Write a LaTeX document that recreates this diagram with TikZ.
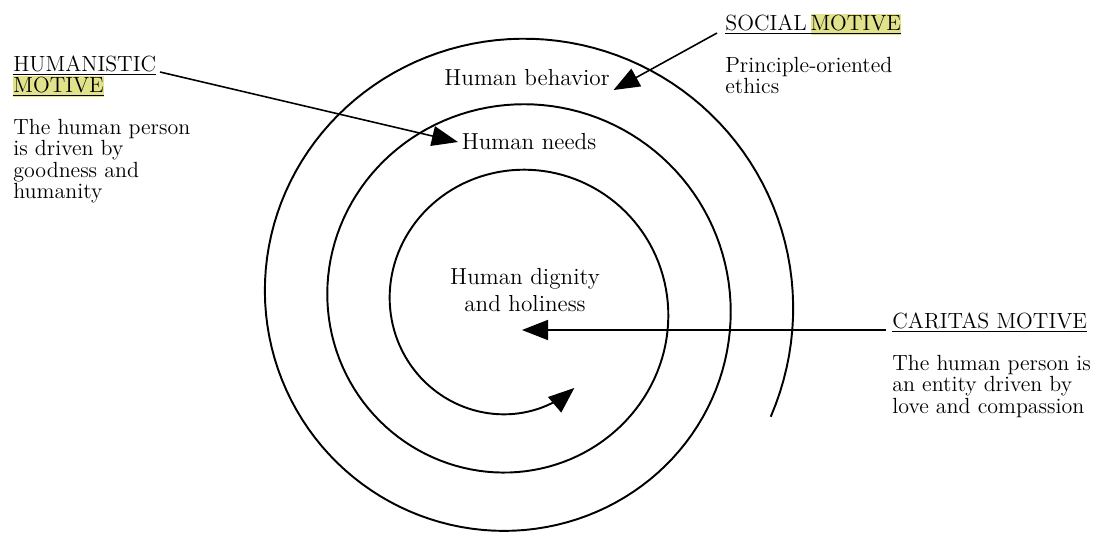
\documentclass[tikz,border=0pt]{standalone}
\usetikzlibrary{arrows.meta}
\definecolor{motivehl}{RGB}{226,226,140}
\newcommand{\hilite}[1]{\setbox1\hbox{#1}\rlap{\color{motivehl}\rule[-2.8pt]{\wd1}{\dimexpr\ht1+3.2pt}}\box1}
\newcommand{\motiveline}[1]{\setbox0\hbox{#1}\copy0\llap{\rule[-2.4pt]{\wd0}{0.8pt}}}

\begin{document}
\begin{tikzpicture}[x=0.02cm, y=-0.02cm,
  label/.style = {font=\fontsize{12.5}{11}\selectfont, inner sep=0pt, align=left},
  ringlabel/.style = {font=\fontsize{13.2}{11}\selectfont, inner sep=2pt, align=center},
  ring/.style = {line width=1.1pt},
  pointer/.style = {line width=0.9pt, -{Triangle[length=0.52cm, width=0.4cm]}}]
\useasboundingbox (0,0) rectangle (1099,542);

% Create spiral from the outer end inwards
\draw[ring, -{Triangle[length=0.52cm, width=0.4cm]}] plot[domain=-25:1027, samples=400, variable=\t]
  ({513.4 + (279.6-0.1736*\t)*cos(\t)}, {298.5 + 0.01*\t - (276-0.1722*\t)*sin(\t)});

% Label rings
\node[ringlabel] (behavior) at (527,78) {Human behavior};
\node[ringlabel] (needs) at (529,142) {Human needs};
\node[ringlabel] (dignity) at (525,290) {Human dignity\\[3pt]and holiness};

% Humanistic motive
\node[label, anchor=base west] (humtitle) at (13,71) {\motiveline{HUMANISTIC}};
\node[label, anchor=base west] (hummotive) at (13,92) {\motiveline{\hilite{MOTIVE}}};
\node[label, anchor=north west] (humtext) at (13,119) {The human person\\is driven by\\goodness and\\humanity};
\coordinate (humstart) at (160,72);
\draw[pointer] (humstart) -- (needs.west);

% Social motive
\node[label, anchor=base west] (soctitle) at (725,30) {\motiveline{SOCIAL\,\hilite{MOTIVE}}};
\node[label, anchor=north west] (soctext) at (725,57) {Principle-oriented\\ethics};
\coordinate (socstart) at (717,33);
\draw[pointer] (socstart) -- (behavior.south east);

% Caritas motive
\node[label, anchor=base west] (cartitle) at (892,328) {\motiveline{CARITAS MOTIVE}};
\node[label, anchor=north west] (cartext) at (892,355) {The human person is\\an entity driven by\\love and compassion};
\coordinate (carstart) at (886,330);
\coordinate (core) at (522,330);
\draw[pointer] (carstart) -- (core);

\end{tikzpicture}
\end{document}
